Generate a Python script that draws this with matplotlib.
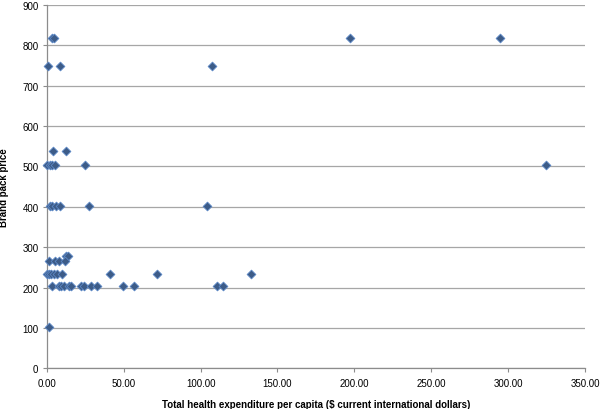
import matplotlib.pyplot as plt
from matplotlib.ticker import FuncFormatter, MultipleLocator

# Total health expenditure per capita vs brand pack price
health_exp = [
    3.5, 4.5, 197.2, 294.8,
    0.5, 8.9, 107.3,
    4.1, 12.3,
    0.2, 2.0, 3.7, 5.2, 25.1, 324.5,
    1.9, 3.7, 5.8, 8.9, 27.5, 103.9,
    12.7, 13.5,
    1.5, 5.2, 7.8, 11.9,
    0.0, 1.3, 3.0, 4.8, 6.7, 10.2, 40.9, 71.9, 132.9,
    3.5, 7.8, 9.5, 11.3, 14.5, 16.0, 22.5, 24.2, 28.6, 32.9, 49.6, 56.5, 110.8, 114.9,
    1.5,
]
pack_price = [
    818, 818, 818, 818,
    748, 748, 748,
    538, 538,
    503, 503, 503, 503, 503, 503,
    403, 403, 403, 403, 403, 403,
    278, 278,
    265, 265, 265, 265,
    234, 234, 234, 234, 234, 234, 234, 234, 234,
    203, 203, 203, 203, 203, 203, 203, 203, 203, 203, 203, 203, 203, 203,
    102,
]

plt.rcParams["font.family"] = ["Liberation Sans", "DejaVu Sans"]

fig = plt.figure(figsize=(6.0, 4.1), dpi=100)
ax = fig.add_axes([0.078, 0.099, 0.897, 0.887])

ax.scatter(health_exp, pack_price, marker="D", s=20, facecolor="#3d5c88",
           edgecolor="#5b87c5", linewidth=0.6, zorder=3, clip_on=False)

ax.set_xlim(0, 350)
ax.set_ylim(0, 900)
ax.xaxis.set_major_locator(MultipleLocator(50))
ax.yaxis.set_major_locator(MultipleLocator(100))
ax.xaxis.set_major_formatter(FuncFormatter(lambda v, _: f"{v:.2f}"))

ax.grid(axis="y", color="#a6a6a6", linewidth=0.9, zorder=0)
ax.set_axisbelow(True)
for side in ("top", "right"):
    ax.spines[side].set_visible(False)
for side in ("left", "bottom"):
    ax.spines[side].set_color("#8c8c8c")
    ax.spines[side].set_linewidth(0.9)

ax.tick_params(axis="both", labelsize=7, colors="#8c8c8c", labelcolor="black",
               length=3, width=0.8, direction="out")
ax.tick_params(axis="x", pad=4)
ax.tick_params(axis="y", pad=3)

ax.set_xlabel("Total health expenditure per capita ($ current international dollars)",
              fontsize=7, fontweight="bold", labelpad=8)
ax.set_ylabel("Brand pack price", fontsize=7, fontweight="bold")
ax.yaxis.set_label_coords(-0.07, 0.5)

fig.savefig("out.png", dpi=100)
